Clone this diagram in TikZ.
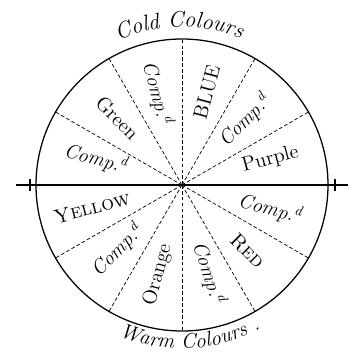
\documentclass[tikz,border=0pt]{standalone}
\usetikzlibrary{decorations.text}

\begin{document}
\begin{tikzpicture}[every node/.style={font=\Large, align=center}, spoke/.style={dashed, dash pattern=on 2.6pt off 1.6pt, line width=0.5pt}, comp/.style={font=\Large\itshape}, crossbar/.style={line width=1.6pt}]
        \useasboundingbox (-4.55,-4.175) rectangle (4.25,4.625);
        \node[draw, circle, minimum size=7.3cm, inner sep=0pt, line width=0.9pt] (wheel) at (0,0) {};
        \coordinate (westend) at (-4.15,0);
        \coordinate (eastend) at (4.15,0);
        \coordinate (westbar) at (-3.8,0);
        \coordinate (eastbar) at (3.83,0);

        % twelve sectors
        \draw[line width=1.1pt] (westend) -- (eastend);
        \draw[crossbar] ([yshift=-0.15cm]westbar) -- ([yshift=0.15cm]westbar);
        \draw[crossbar] ([yshift=-0.15cm]eastbar) -- ([yshift=0.15cm]eastbar);
        \draw[spoke] (wheel.center) -- (wheel.30);
        \draw[spoke] (wheel.center) -- (wheel.60);
        \draw[spoke] (wheel.center) -- (wheel.90);
        \draw[spoke] (wheel.center) -- (wheel.120);
        \draw[spoke] (wheel.center) -- (wheel.150);
        \draw[spoke] (wheel.center) -- (wheel.210);
        \draw[spoke] (wheel.center) -- (wheel.240);
        \draw[spoke] (wheel.center) -- (wheel.270);
        \draw[spoke] (wheel.center) -- (wheel.300);
        \draw[spoke] (wheel.center) -- (wheel.330);

        \node[rotate=15] (purple) at (16:2.3) {Purple};
        \node[comp, rotate=45] (comp1) at (46:2.25) {Comp.\textsuperscript{d}};
        \node[rotate=75] (blue) at (75:2.4) {BLUE};
        \node[comp, rotate=-75] (comp2) at (105:2.38) {Comp.\textsuperscript{d}};
        \node[rotate=-45] (green) at (134:2.32) {Green};
        \node[comp, rotate=-15] (comp3) at (163:2.25) {Comp.\textsuperscript{d}};
        \node[rotate=15] (yellow) at (194:2.32) {\textsc{Yellow}};
        \node[comp, rotate=45] (comp4) at (225:2.3) {Comp.\textsuperscript{d}};
        \node[rotate=75] (orange) at (255:2.32) {Orange};
        \node[comp, rotate=-72] (comp5) at (287:2.3) {Comp.\textsuperscript{d}};
        \node[rotate=-45] (red) at (315:2.32) {\textsc{Red}};
        \node[comp, rotate=-15] (comp6) at (345:2.28) {Comp.\textsuperscript{d}};

        \path[decorate, decoration={text along path, text align=center, text={|\fontsize{16}{19}\selectfont\itshape|Cold Colours}}] (135:3.95) arc[start angle=135, end angle=47, radius=3.95];
        \path[decorate, decoration={text along path, text align=center, text={|\fontsize{15}{18}\selectfont\itshape|Warm Colours .}}] (228:4.09) arc[start angle=228, end angle=318, radius=4.09];
    \end{tikzpicture}
\end{document}
